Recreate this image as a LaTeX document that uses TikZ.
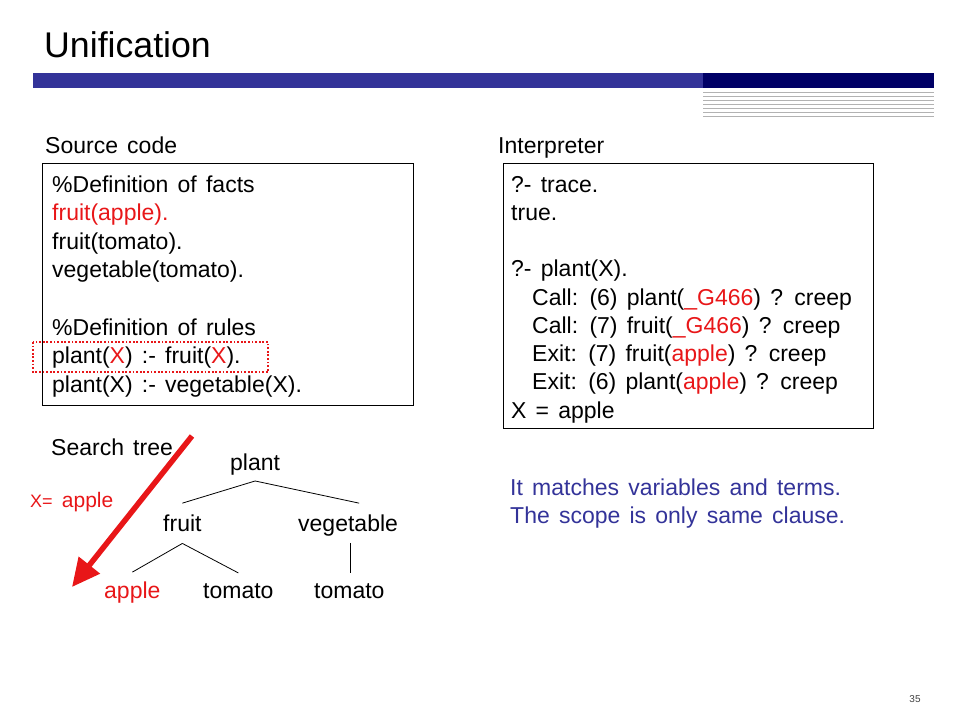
\documentclass[tikz,border=0pt]{standalone}
\usepackage{fontspec}
\setmainfont{Liberation Sans}
\usetikzlibrary{arrows.meta}
\definecolor{slideblue}{RGB}{51,51,153}
\definecolor{slidenavy}{RGB}{0,0,102}
\definecolor{slidered}{RGB}{232,22,24}
\newcommand{\hl}[1]{\textcolor{slidered}{#1}}
\newcommand{\slidefont}[1]{\fontsize{#1}{28}\selectfont\spaceskip=0.4em\relax}
\tikzset{
  txt/.style={anchor=base west, inner sep=0pt, font=\slidefont{23}},
  frame/.style={draw, line width=1pt},
  branch/.style={line width=0.8pt},
  pick/.style={slidered, line width=5.5pt, -{Triangle[length=28pt,width=26pt]}}
}
\begin{document}
\begin{tikzpicture}[x=1pt,y=-1pt]
      \useasboundingbox (0,0) rectangle (960,720);

      \node[txt, font=\fontsize{35.7}{40}\selectfont] (title) at (44,57) {Unification};
      \fill[slideblue] (33,73) rectangle (703,88);
      \fill[slidenavy] (703,73) rectangle (934,88);
      \foreach \y in {92,96,...,116}
        \draw[black!30, line width=0.6pt] (703,\y) -- (934,\y);

      \node[txt] (srchead) at (45,153) {Source code};
      \draw[frame] (42,163) rectangle (413,405);
      \foreach \t [count=\i] in {\%Definition of facts, \hl{fruit(apple).}, fruit(tomato).,
          vegetable(tomato)., {}, \%Definition of rules, plant(\hl{X}) :- fruit(\hl{X}).,
          plant(X) :- vegetable(X).}
        \node[txt] (src\i) at (52,{192+(\i-1)*28.6}) {\t};
      \draw[slidered, line width=1.8pt, dash pattern=on 1.8pt off 1.8pt] (33,342) rectangle (268,372);

      \node[txt] (inthead) at (498,153) {Interpreter};
      \draw[frame] (503,163) rectangle (873,428);
      \foreach \t [count=\i] in {?- trace., true., {}, ?- plant(X).,
          \hspace*{21pt}Call: (6) plant(\hl{\_G466}) ? creep,
          \hspace*{21pt}Call: (7) fruit(\hl{\_G466}) ? creep,
          \hspace*{21pt}Exit: (7) fruit(\hl{apple}) ? creep,
          \hspace*{21pt}Exit: (6) plant(\hl{apple}) ? creep,
          X = apple}
        \node[txt] (int\i) at (511,{192+(\i-1)*28.25}) {\t};

      \node[txt] (treehead) at (51,455) {Search tree};
      \node[txt] (plant) at (230,470) {plant};
      \node[txt] (fruit) at (163,531) {fruit};
      \node[txt] (veg) at (298,531) {vegetable};
      \node[txt, text=slidered] (apple) at (104,598) {apple};
      \node[txt] (tomL) at (203,598) {tomato};
      \node[txt] (tomR) at (314,598) {tomato};

      \draw[branch] ([yshift=-6pt]plant.south) -- ([yshift=11pt]fruit.north);
      \draw[branch] ([yshift=-6pt]plant.south) -- ([shift={(11pt,11pt)}]veg.north);
      \draw[branch] ([yshift=-12pt]fruit.south) -- ([yshift=9pt]apple.north);
      \draw[branch] ([yshift=-12pt]fruit.south) -- ([yshift=10pt]tomL.north);
      \coordinate (vegfoot) at ([shift={(2pt,-7pt)}]veg.south);
      \coordinate (tomRtop) at ([yshift=10pt]tomR.north);
      \draw[branch] (vegfoot) -- (vegfoot |- tomRtop);

      \coordinate (picktop) at (192,436);
      \coordinate (pickend) at (72,587);
      \draw[pick] (picktop) -- (pickend);
      \node[txt, text=slidered] (bind) at (30,507) {{\fontsize{18}{20}\selectfont X=} {\fontsize{21}{24}\selectfont apple}};

      \node[txt, text=slideblue] (note1) at (510,495.5) {It matches variables and terms.};
      \node[txt, text=slideblue] (note2) at (510,523.5) {The scope is only same clause.};

      \node[txt, anchor=base, font=\fontsize{10}{12}\selectfont, text=black!75] (pageno) at (915,702) {35};
    \end{tikzpicture}
\end{document}
